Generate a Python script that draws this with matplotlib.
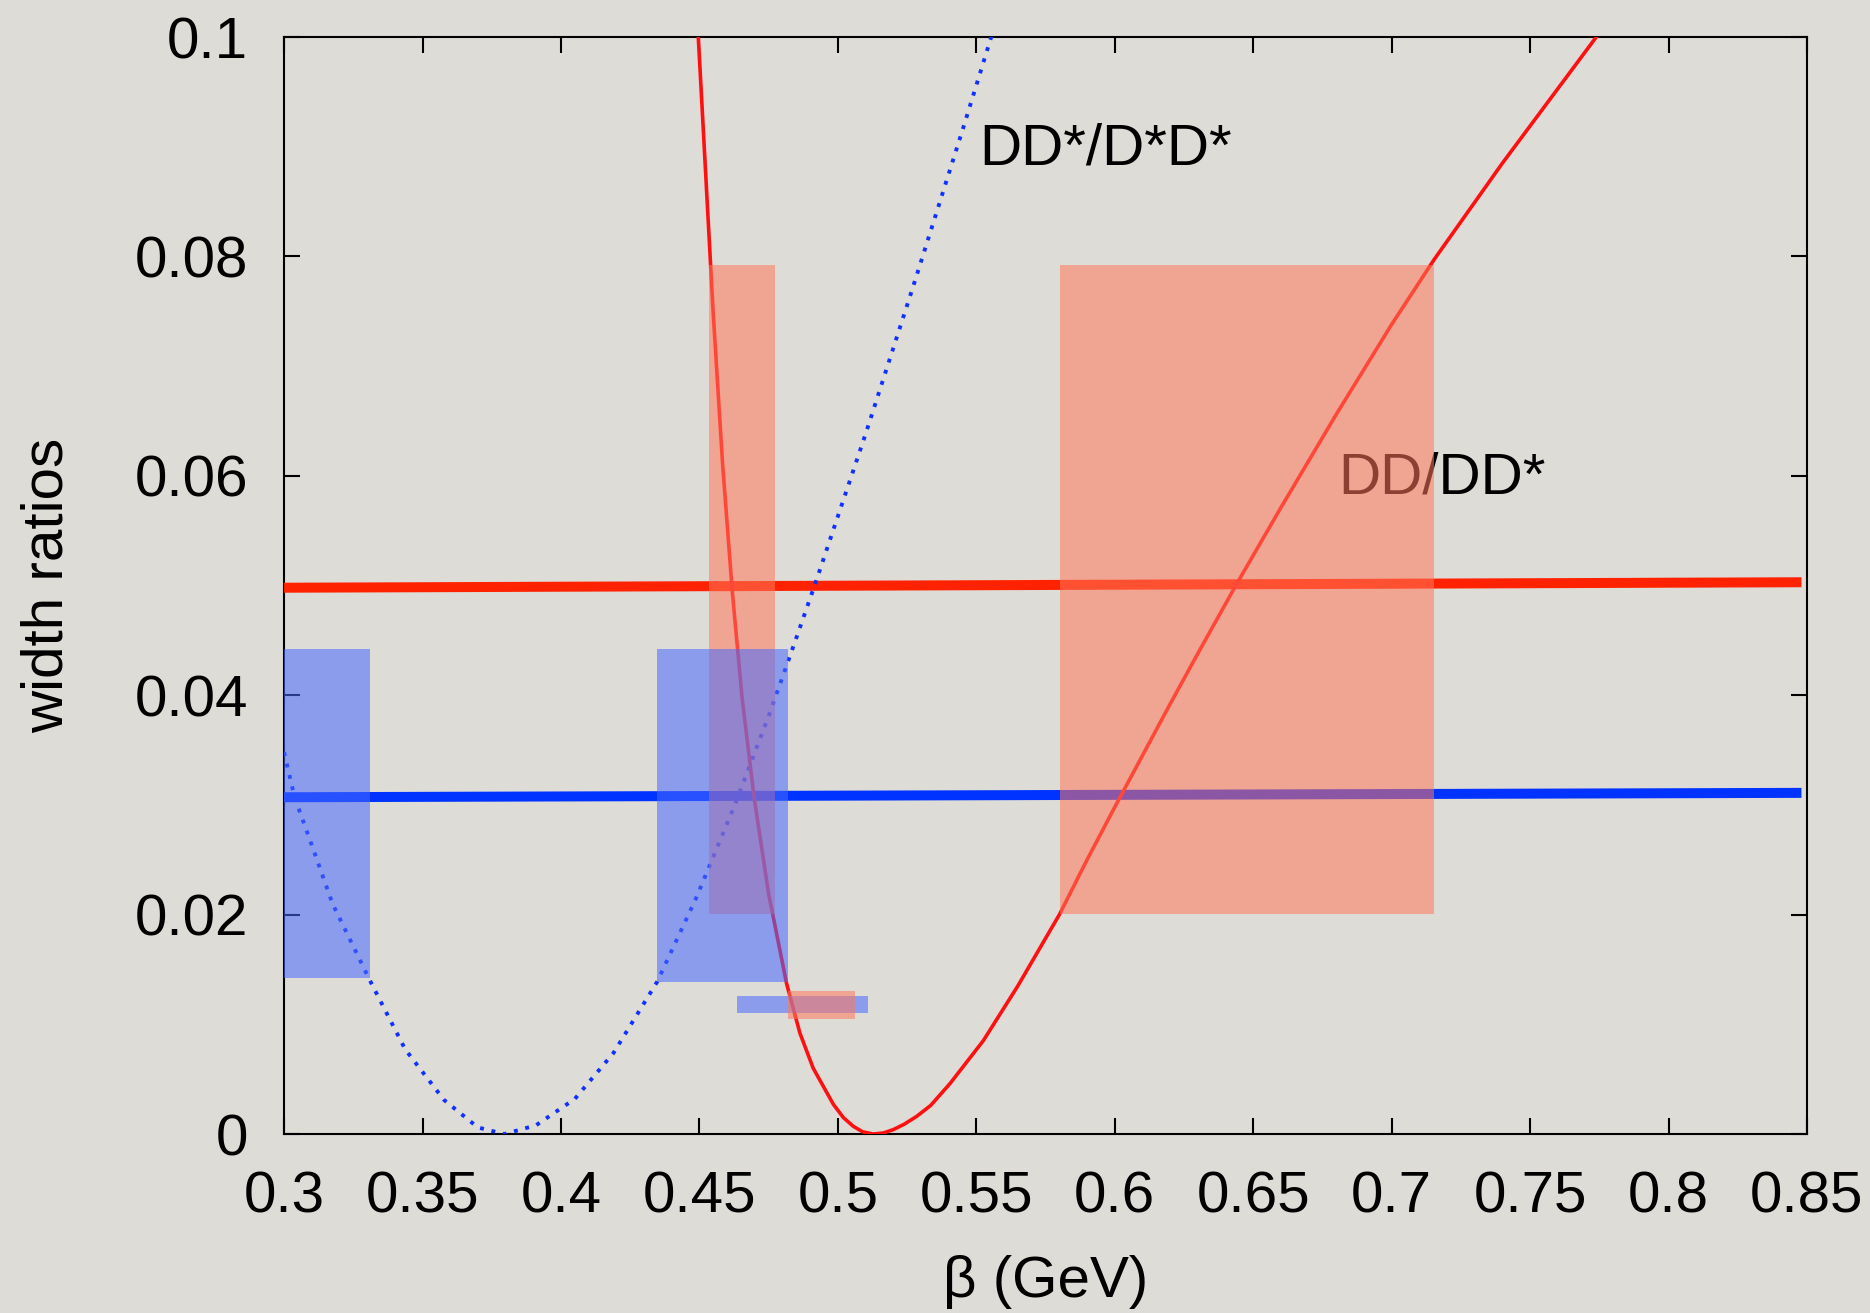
import matplotlib
matplotlib.use("Agg")
import matplotlib.pyplot as plt

plt.rcParams['font.family'] = ['Liberation Sans', 'DejaVu Sans']

# DD*/D*D* curve (blue, dotted)
blue_x = [0.300, 0.3038, 0.3088, 0.3175, 0.331, 0.3438, 0.3578, 0.370, 0.3796, 0.391,
          0.405, 0.419, 0.4348, 0.4488, 0.4628, 0.4750, 0.4833, 0.4916, 0.510, 0.5275,
          0.545, 0.5555]
blue_y = [0.0348, 0.0307, 0.0272, 0.0210, 0.0140, 0.0077, 0.0031, 0.0006, 0.0000, 0.0008,
          0.0032, 0.0074, 0.0139, 0.0215, 0.0300, 0.0381, 0.0440, 0.0500, 0.0638, 0.0775,
          0.0915, 0.1001]

# DD/DD* curve (red, solid)
red_x = [0.4496, 0.4523, 0.4549, 0.4584, 0.4619, 0.4654, 0.4698, 0.4750, 0.4815, 0.4863,
         0.4911, 0.4984, 0.5020, 0.5056, 0.5090, 0.5128, 0.5165, 0.5200, 0.5240, 0.5284,
         0.5335, 0.5405, 0.5525, 0.5650, 0.5800, 0.5900, 0.6000, 0.6100, 0.6200, 0.6300,
         0.6437, 0.6600, 0.6800, 0.7000, 0.7153, 0.7400, 0.7739]
red_y = [0.1000, 0.0874, 0.0752, 0.0610, 0.0494, 0.0398, 0.0306, 0.0219, 0.0137, 0.0092,
         0.0060, 0.0027, 0.0015, 0.0007, 0.0002, 0.0000, 0.0001, 0.0004, 0.0009, 0.0016,
         0.0026, 0.0046, 0.0085, 0.0135, 0.0200, 0.0250, 0.0298, 0.0345, 0.0392, 0.0438,
         0.0500, 0.0571, 0.0656, 0.0738, 0.0797, 0.0885, 0.1000]

# horizontal bands (experimental ratios)
hline_x = [0.300, 0.848]
red_hline_y = [0.0498, 0.0503]
blue_hline_y = [0.0307, 0.0311]

# shaded boxes
blue_box_x0 = [0.300, 0.4348, 0.4636]
blue_box_x1 = [0.331, 0.4820, 0.5109]
blue_box_lo = [0.0142, 0.0139, 0.0110]
blue_box_hi = [0.0442, 0.0442, 0.0126]

red_box_x0 = [0.4533, 0.5803, 0.4820]
red_box_x1 = [0.4773, 0.7153, 0.5062]
red_box_lo = [0.0201, 0.0201, 0.01045]
red_box_hi = [0.0792, 0.0792, 0.0130]

xticks = [0.3, 0.35, 0.4, 0.45, 0.5, 0.55, 0.6, 0.65, 0.7, 0.75, 0.8, 0.85]
xtick_labels = ['0.3', '0.35', '0.4', '0.45', '0.5', '0.55', '0.6', '0.65', '0.7', '0.75', '0.8', '0.85']
yticks = [0, 0.02, 0.04, 0.06, 0.08, 0.1]
ytick_labels = ['0', '0.02', '0.04', '0.06', '0.08', '0.1']

bg = '#dedcd6'
fs = 42
fig = plt.figure(figsize=(18.7, 13.13), dpi=100, facecolor=bg)
ax = fig.add_axes([0.1519, 0.1363, 0.8144, 0.8355], facecolor=bg)

ax.plot(hline_x, red_hline_y, color='#ff2200', lw=7.2, solid_capstyle='butt', zorder=3)
ax.plot(hline_x, blue_hline_y, color='#0033ff', lw=7.2, solid_capstyle='butt', zorder=3)
ax.plot(blue_x, blue_y, color='#1030ff', lw=2.8, linestyle=(0, (1, 2)), zorder=3)
ax.plot(red_x, red_y, color='#ff1010', lw=2.6, zorder=3)

ax.text(0.551, 0.0884, 'DD*/D*D*', fontsize=fs, ha='left', va='baseline', zorder=3)
ax.text(0.6808, 0.0584, 'DD/DD*', fontsize=fs, ha='left', va='baseline', zorder=3)

red_c = '#ff765b'
blue_c = '#4969ff'
a = 0.55
# big red boxes, then blue boxes on top, then the small red bar
for i in range(2):
    ax.bar(red_box_x0[i], red_box_hi[i] - red_box_lo[i], width=red_box_x1[i] - red_box_x0[i],
           bottom=red_box_lo[i], align='edge', color=red_c, alpha=a, lw=0, zorder=5)
for i in range(3):
    ax.bar(blue_box_x0[i], blue_box_hi[i] - blue_box_lo[i], width=blue_box_x1[i] - blue_box_x0[i],
           bottom=blue_box_lo[i], align='edge', color=blue_c, alpha=a, lw=0, zorder=6)
ax.bar(red_box_x0[2], red_box_hi[2] - red_box_lo[2], width=red_box_x1[2] - red_box_x0[2],
       bottom=red_box_lo[2], align='edge', color=red_c, alpha=a, lw=0, zorder=7)

ax.set_xlim(0.3, 0.85)
ax.set_ylim(0, 0.1)
ax.set_xticks(xticks)
ax.set_xticklabels(xtick_labels)
ax.set_yticks(yticks)
ax.set_yticklabels(ytick_labels)
ax.tick_params(direction='in', top=True, right=True, length=11.5, width=1.5,
               labelsize=fs, pad=26)
for s in ax.spines.values():
    s.set_linewidth(1.5)

ax.set_xlabel('β (GeV)', fontsize=fs)
ax.xaxis.set_label_coords(0.5, -0.11)
ax.set_ylabel('width ratios', fontsize=fs, va='center')
ax.yaxis.set_label_coords(-0.155, 0.5)

fig.savefig('out.png', dpi=100, facecolor=bg)
